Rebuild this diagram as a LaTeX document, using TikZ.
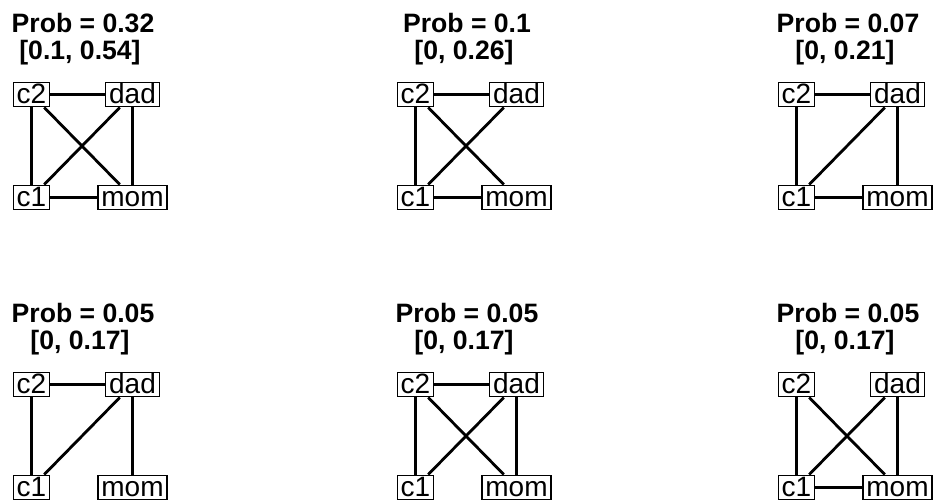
\documentclass[tikz,border=0pt]{standalone}
\usepackage{fontspec}
\setmainfont{Liberation Sans}
\tikzset{
  vbox/.style={draw, line width=1.3pt, inner xsep=3.5pt, inner ysep=0pt,
    text height=21.5pt, text depth=3pt, font=\fontsize{28}{30}\selectfont},
  edge/.style={line width=2.8pt},
  ttl/.style={anchor=base, inner sep=0pt, font=\fontsize{26.6}{30}\selectfont\bfseries}
}
\newcommand\drawpanel[6]{%
  \begin{scope}[shift={(#2,#3)}]
    \node[ttl] (#1ta) at (83,33) {#4};
    \node[ttl] (#1tb) at (80,60) {#5};
    \node[vbox] (#1c2) at (31.5,94.5) {c2};
    \node[vbox] (#1dad) at (132.5,94.5) {dad};
    \node[vbox] (#1c1) at (31.5,197.5) {c1};
    \node[vbox] (#1mom) at (132.5,197.5) {mom};
    \foreach \a/\b in {#6} {\draw[edge] (#1\a) -- (#1\b);}
  \end{scope}}
\begin{document}
\begin{tikzpicture}[x=1pt,y=-1pt]
  \useasboundingbox (0,0) rectangle (937,502);
  \drawpanel{pa}{0}{0}{Prob = 0.32}{[0.1, 0.54]}{c2/dad,c2/c1,c2/mom,dad/c1,dad/mom,c1/mom}
  \drawpanel{pb}{384}{0}{Prob = 0.1}{[0, 0.26]}{c2/dad,c2/c1,c2/mom,dad/c1,c1/mom}
  \drawpanel{pc}{765}{0}{Prob = 0.07}{[0, 0.21]}{c2/dad,c2/c1,dad/c1,dad/mom,c1/mom}
  \drawpanel{pd}{0}{290}{Prob = 0.05}{[0, 0.17]}{c2/dad,c2/c1,dad/c1,dad/mom}
  \drawpanel{pe}{384}{290}{Prob = 0.05}{[0, 0.17]}{c2/dad,c2/c1,c2/mom,dad/c1,dad/mom}
  \drawpanel{pf}{765}{290}{Prob = 0.05}{[0, 0.17]}{c2/c1,c2/mom,dad/c1,dad/mom,c1/mom}
\end{tikzpicture}
\end{document}
